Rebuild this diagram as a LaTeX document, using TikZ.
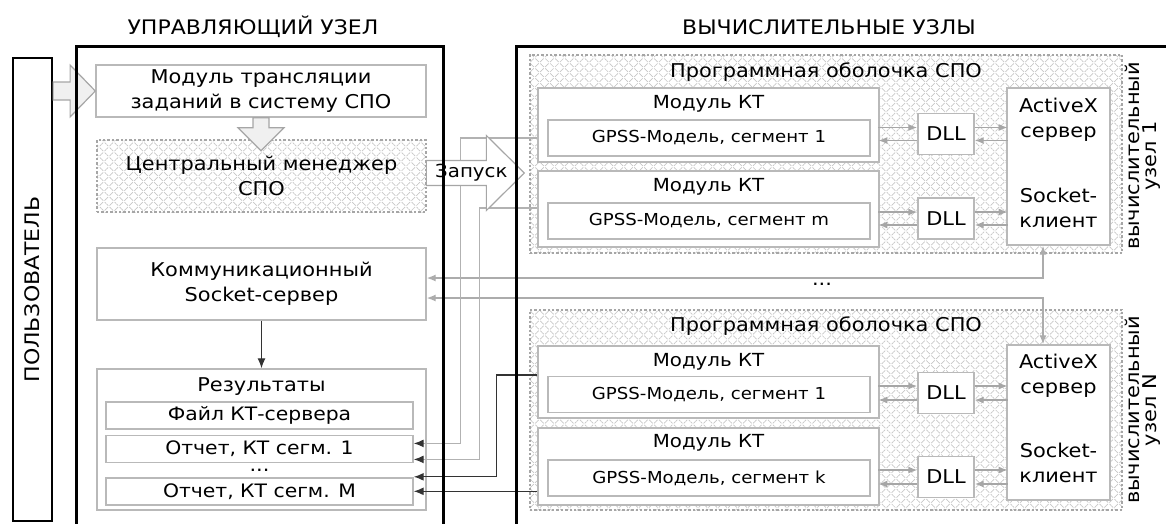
\documentclass[tikz,border=0pt]{standalone}
\usepackage{fontspec}
\setmainfont{DejaVu Sans}[FakeStretch=1.1]
\usetikzlibrary{positioning, calc, arrows.meta, patterns.meta}

\begin{document}
\begin{tikzpicture}[
    x=1pt, y=-1pt,
    font=\fontsize{19}{25}\selectfont,
    thickbox/.style={rectangle, draw=black, line width=2.6pt, inner sep=0pt},
    greybox/.style={
        rectangle, draw=gray!55, line width=1.4pt, fill=white,
        inner sep=0pt, align=center
    },
    hatched/.style={
        rectangle, draw=gray!70, line width=1.6pt, dash pattern=on 2.4pt off 2pt,
        inner sep=0pt, align=center,
        pattern={Hatch[angle=45, distance=7pt, line width=0.7pt]},
        pattern color=gray!45
    },
    subbox/.style={greybox, minimum width=307, minimum height=27,
        font=\fontsize{18.5}{22}\selectfont},
    modbox/.style={greybox, minimum width=341},
    gpsbox/.style={greybox, minimum width=322, minimum height=36,
        font=\fontsize{16.5}{20}\selectfont},
    dllbox/.style={greybox, minimum width=56, minimum height=41},
    axnbox/.style={greybox, minimum width=103},
    modlbl/.style={font=\fontsize{18}{22}\selectfont},
    titlelbl/.style={font=\fontsize{20}{24}\selectfont},
    sidelbl/.style={rotate=90, align=center, font=\fontsize{19}{17}\selectfont},
    blockarr/.style={draw=gray!70, fill=gray!12, line width=1.2pt},
    launcharr/.style={draw=gray!70, fill=white, line width=1.2pt},
    garr/.style={-{Latex[length=9pt, width=7pt]}, draw=gray!70, line width=1.4pt},
    upline/.style={-{Latex[length=10pt, width=8pt, color=black!80]}, draw=gray!60, line width=1.3pt},
    dnline/.style={-{Latex[length=10pt, width=8pt]}, draw=black!80, line width=1.3pt},
    sockline/.style={{Latex[length=9pt, width=7pt]}-{Latex[length=9pt, width=7pt]},
        draw=gray!65, line width=1.3pt},
]

\path[use as bounding box, clip] (0,0) rectangle (1166,523);

% Titles
\node[titlelbl] (ttlctrl) at (253,27) {УПРАВЛЯЮЩИЙ УЗЕЛ};
\node[titlelbl] (ttlcomp) at (829,27) {ВЫЧИСЛИТЕЛЬНЫЕ УЗЛЫ};

% User
\node[thickbox, line width=2.2pt, minimum width=39, minimum height=463] (user) at (32.5,289.5) {};
\node[rotate=90, titlelbl] (userlbl) at (user.center) {ПОЛЬЗОВАТЕЛЬ};

% Control node
\node[greybox, minimum width=330, minimum height=52] (trans) at (261,91) {Модуль трансляции\\заданий в систему СПО};
\node[hatched, minimum width=329, minimum height=72] (mgr) at (261.5,176) {Центральный менеджер\\СПО};
\node[greybox, minimum width=329, minimum height=72] (comm) at (261.5,284) {Коммуникационный\\Socket-сервер};
\node[greybox, minimum width=329, minimum height=141] (res) at (261.5,439.5) {};
\node (restitle) at ([yshift=-18pt]res.north) {Результаты};
\node[subbox] (file) at (259.5,415.5) {Файл КТ-сервера};
\node[subbox, below=5pt of file] (rep1) {Отчет, КТ сегм. 1};
\node[subbox, below=14pt of rep1] (repM) {Отчет, КТ сегм. М};
\node[inner sep=0pt] (repdots) at ($(rep1.south)!.5!(repM.north)$) {...};

% Compute node 1
\node[hatched, minimum width=592, minimum height=198] (shell1) at (826,154) {};
\node (shelllbl1) at ([yshift=-18pt]shell1.north) {Программная оболочка СПО};
\node[modbox, minimum height=74] (mod1a) at (708.5,125) {};
\node[modlbl] at ([yshift=-17pt]mod1a.north) {Модуль КТ};
\node[gpsbox] (gps1a) at (709,138) {GPSS-Модель, сегмент 1};
\node[modbox, minimum height=76] (mod2a) at (708.5,209) {};
\node[modlbl] at ([yshift=-17pt]mod2a.north) {Модуль КТ};
\node[gpsbox] (gps2a) at (709,221) {GPSS-Модель, сегмент m};
\node[dllbox] (dll1a) at (946,134) {DLL};
\node[dllbox] (dll2a) at (946,218.5) {DLL};
\node[axnbox, minimum height=157] (axn1) at (1058.5,166.5) {};
\node[align=center] at ([yshift=-32pt]axn1.north) {ActiveX\\сервер};
\node[align=center] at ([yshift=38pt]axn1.south) {Socket-\\клиент};
\node[sidelbl] (side1) at (1143,156) {вычислительный\\узел 1};

% Compute node N
\node[hatched, minimum width=592, minimum height=200] (shell2) at (826,410) {};
\node (shelllbl2) at ([yshift=-17pt]shell2.north) {Программная оболочка СПО};
\node[modbox, minimum height=72] (mod1b) at (708.5,382) {};
\node[modlbl] at ([yshift=-17pt]mod1b.north) {Модуль КТ};
\node[gpsbox] (gps1b) at (709,394.5) {GPSS-Модель, сегмент 1};
\node[modbox, minimum height=77] (mod2b) at (708.5,466.5) {};
\node[modlbl] at ([yshift=-15pt]mod2b.north) {Модуль КТ};
\node[gpsbox] (gps2b) at (709,478) {GPSS-Модель, сегмент k};
\node[dllbox] (dll1b) at (946,393) {DLL};
\node[dllbox] (dll2b) at (946,477) {DLL};
\node[axnbox, minimum height=155] (axnN) at (1058.5,422.5) {};
\node[align=center] at ([yshift=-31pt]axnN.north) {ActiveX\\сервер};
\node[align=center] at ([yshift=38pt]axnN.south) {Socket-\\клиент};
\node[sidelbl] (sideN) at (1143,410) {вычислительный\\узел N};

\node (nodedots) at (822,284) {...};

% DLL links
\draw[garr] ([xshift=-39pt,yshift=6.5pt]dll1a.west) -- ([yshift=6.5pt]dll1a.west);
\draw[garr] ([yshift=-6.5pt]dll1a.west) -- ++(-39,0);
\draw[garr] ([yshift=6.5pt]dll1a.east) -- ++(33,0);
\draw[garr] ([xshift=33pt,yshift=-6.5pt]dll1a.east) -- ([yshift=-6.5pt]dll1a.east);
\draw[garr] ([xshift=-39pt,yshift=6.5pt]dll2a.west) -- ([yshift=6.5pt]dll2a.west);
\draw[garr] ([yshift=-6.5pt]dll2a.west) -- ++(-39,0);
\draw[garr] ([yshift=6.5pt]dll2a.east) -- ++(33,0);
\draw[garr] ([xshift=33pt,yshift=-6.5pt]dll2a.east) -- ([yshift=-6.5pt]dll2a.east);
\draw[garr] ([xshift=-39pt,yshift=7pt]dll1b.west) -- ([yshift=7pt]dll1b.west);
\draw[garr] ([yshift=-7pt]dll1b.west) -- ++(-39,0);
\draw[garr] ([yshift=7pt]dll1b.east) -- ++(33,0);
\draw[garr] ([xshift=33pt,yshift=-7pt]dll1b.east) -- ([yshift=-7pt]dll1b.east);
\draw[garr] ([xshift=-39pt,yshift=7pt]dll2b.west) -- ([yshift=7pt]dll2b.west);
\draw[garr] ([yshift=-7pt]dll2b.west) -- ++(-39,0);
\draw[garr] ([yshift=7pt]dll2b.east) -- ++(33,0);
\draw[garr] ([xshift=33pt,yshift=-7pt]dll2b.east) -- ([yshift=-7pt]dll2b.east);

% Socket links
\draw[sockline] ([yshift=6pt]comm.east) -| ([xshift=-15.5pt]axn1.south);
\draw[sockline] ([yshift=-14pt]comm.east) -| ([xshift=-15.5pt]axnN.north);

% Results
\draw[dnline] (comm.south) -- (res.north);
\draw[upline] (mod1a.west |- gps1a.west) -| ([xshift=47pt,yshift=5.5pt]rep1.east) -- ([yshift=5.5pt]rep1.east);
\draw[upline] ([yshift=1pt]mod2a.west) -| ([xshift=66pt,yshift=-10.5pt]rep1.east) -- ([yshift=-10.5pt]rep1.east);
\draw[dnline] ([yshift=7pt]mod1b.west) -| ([xshift=83pt,yshift=14.5pt]repM.east) -- ([yshift=14.5pt]repM.east);
\draw[dnline] (mod2b.west |- repM.east) -- (repM.east);

% Block arrows
\coordinate (uin) at (user.east |- trans.west);
\draw[blockarr] ([yshift=9pt]uin) -- ++(17,0) -- ++(0,-17) -- (trans.west)
    -- ([xshift=17pt,yshift=-26pt]uin) -- ++(0,-17) -- ([yshift=-9pt]uin) -- cycle;
\draw[blockarr] ([xshift=-8pt]trans.south) -- ++(0,10) -- ++(-15,0) -- ([yshift=-33pt]trans.south)
    -- ([xshift=23pt,yshift=-10pt]trans.south) -- ++(-15,0) -- ([xshift=8pt]trans.south) -- cycle;
\coordinate (lin) at ([yshift=3pt]mgr.east);
\draw[launcharr] ([yshift=12.5pt]lin) -- ++(60,0) -- ++(0,-25) -- ([xshift=98pt]lin)
    -- ([xshift=60pt,yshift=-37.5pt]lin) -- ++(0,-25) -- ([yshift=-12.5pt]lin) -- cycle;
\node[modlbl] (launch) at ([xshift=45pt]lin) {Запуск};

% Outer frames
\node[thickbox, anchor=north west, minimum width=367, minimum height=500] (ctrl) at (75,45) {};
\node[thickbox, anchor=north west, minimum width=700, minimum height=500] (comp) at (515,45) {};

\end{tikzpicture}
\end{document}
